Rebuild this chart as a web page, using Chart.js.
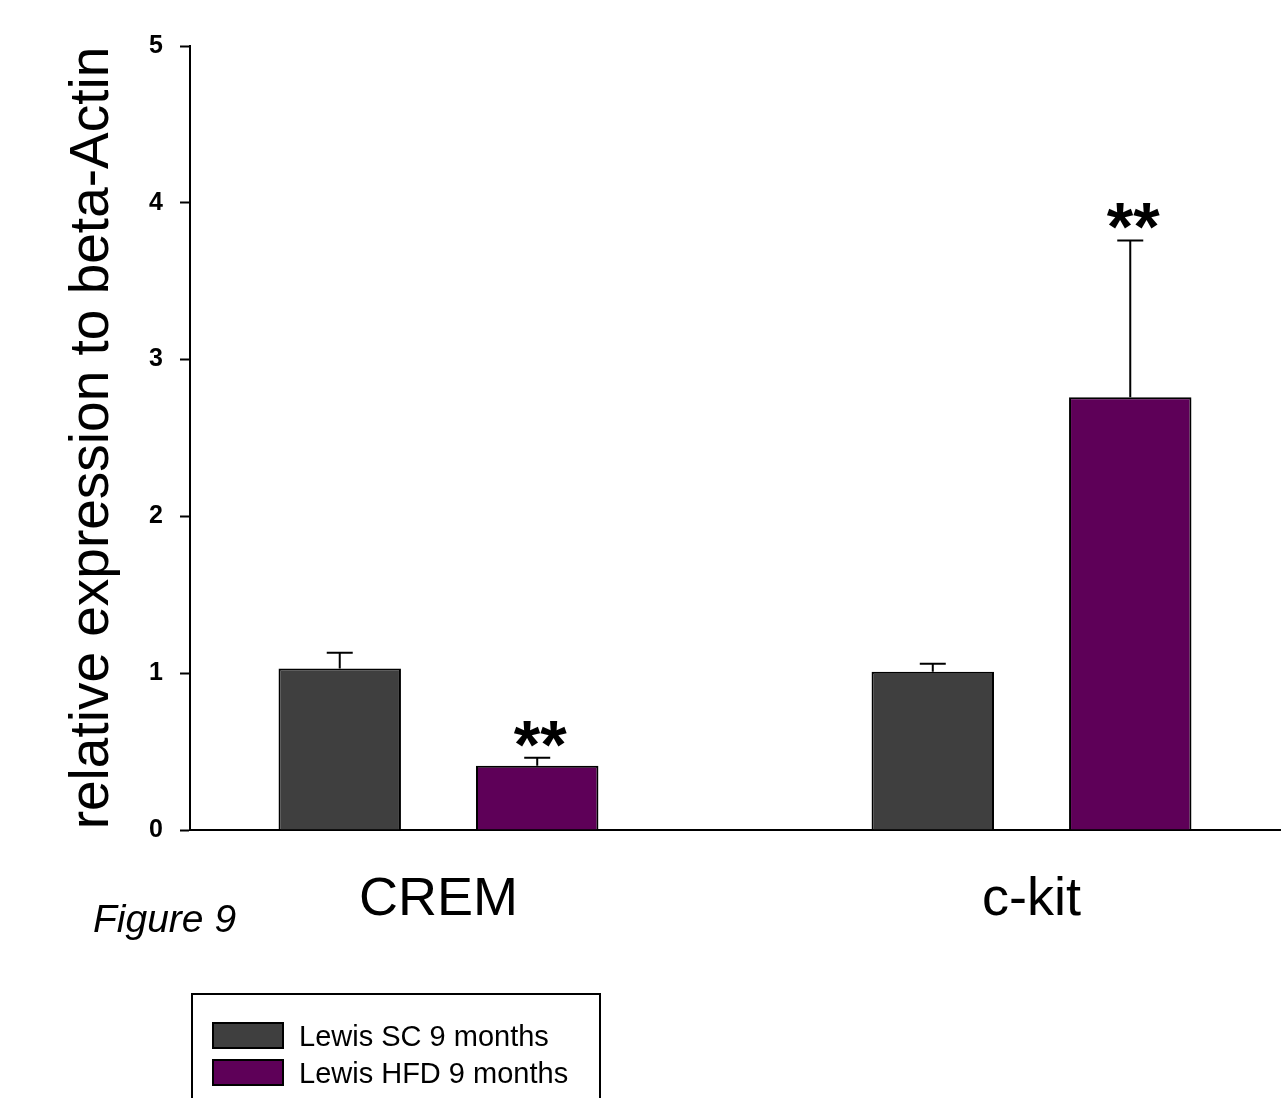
<!DOCTYPE html>
<html>
<head>
<meta charset="utf-8">
<script src="https://cdn.jsdelivr.net/npm/chart.js@4"></script>
<style>
  html, body { margin: 0; padding: 0; background: #fff; }
  #wrap { width: 1287px; height: 1098px; position: relative; }
</style>
</head>
<body>
<div id="wrap"><canvas id="chart" width="1287" height="1098"></canvas></div>
<script>
// data
const categories = ['CREM', 'c-kit'];
const seriesNames = ['Lewis SC 9 months', 'Lewis HFD 9 months'];
const scValues = [1.03, 1.01];
const scErrors = [0.10, 0.05];
const hfdValues = [0.41, 2.76];
const hfdErrors = [0.05, 1.00];
const hfdSignificance = ['**', '**'];
const yTicks = [0, 1, 2, 3, 4, 5];

const FONT = '"Liberation Sans", Arial, sans-serif';
const colors = ['#3f3f3f', '#5e0058'];

// error bars, significance stars, figure caption and boxed legend
const extras = {
  id: 'extras',
  afterDatasetsDraw(chart) {
    const ctx = chart.ctx;
    const y = chart.scales.y;
    ctx.save();
    ctx.strokeStyle = '#000';
    ctx.lineWidth = 2;
    chart.data.datasets.forEach((ds, di) => {
      const meta = chart.getDatasetMeta(di);
      meta.data.forEach((bar, i) => {
        const top = y.getPixelForValue(ds.data[i].y + ds.errors[i]);
        ctx.beginPath();
        ctx.moveTo(bar.x, bar.y);
        ctx.lineTo(bar.x, top);
        ctx.moveTo(bar.x - 13, top);
        ctx.lineTo(bar.x + 13, top);
        ctx.stroke();
        if (ds.stars && ds.stars[i]) {
          ctx.fillStyle = '#000';
          ctx.font = 'bold 68px ' + FONT;
          ctx.textAlign = 'center';
          ctx.textBaseline = 'alphabetic';
          ctx.fillText(ds.stars[i], bar.x + 3, top + 10);
        }
      });
    });
    ctx.restore();
  },
  afterDraw(chart) {
    const ctx = chart.ctx;
    ctx.save();
    ctx.fillStyle = '#000';
    ctx.font = 'italic 39px ' + FONT;
    ctx.textAlign = 'left';
    ctx.textBaseline = 'alphabetic';
    ctx.fillText('Figure 9', 93, 932);

    // legend box (runs off the bottom edge like the original)
    ctx.strokeStyle = '#000';
    ctx.lineWidth = 2;
    ctx.strokeRect(192, 994, 408, 140);
    ctx.font = '29px ' + FONT;
    chart.data.datasets.forEach((ds, di) => {
      const top = 1023 + di * 37;
      ctx.fillStyle = ds.backgroundColor;
      ctx.fillRect(213, top, 70, 25);
      ctx.strokeRect(213, top, 70, 25);
      ctx.fillStyle = '#000';
      ctx.fillText(ds.label, 299, top + 23);
    });
    ctx.restore();
  }
};

new Chart(document.getElementById('chart'), {
  type: 'bar',
  data: {
    datasets: [
      {
        label: seriesNames[0],
        data: categories.map((c, i) => ({ x: i, y: scValues[i] })),
        errors: scErrors,
        backgroundColor: colors[0],
        borderColor: '#000',
        borderWidth: 2
      },
      {
        label: seriesNames[1],
        data: categories.map((c, i) => ({ x: i, y: hfdValues[i] })),
        errors: hfdErrors,
        stars: hfdSignificance,
        backgroundColor: colors[1],
        borderColor: '#000',
        borderWidth: 2
      }
    ]
  },
  options: {
    responsive: false,
    animation: false,
    devicePixelRatio: 1,
    categoryPercentage: 0.666,
    barPercentage: 0.62,
    layout: { padding: { top: 46, right: 7, left: 0, bottom: 0 } },
    plugins: {
      legend: { display: false },
      tooltip: { enabled: false }
    },
    scales: {
      x: {
        type: 'linear',
        offset: false,
        min: -0.419,
        max: 1.419,
        afterBuildTicks: (scale) => {
          scale.ticks = categories.map((c, i) => ({ value: i }));
        },
        afterFit: (scale) => { scale.height = 268; },
        grid: { display: false, drawTicks: false, offset: false },
        border: { display: true, color: '#000', width: 2 },
        ticks: {
          padding: 38,
          color: '#000',
          font: { family: FONT, size: 54 },
          callback: (v) => categories[v]
        }
      },
      y: {
        min: 0,
        max: 5,
        afterBuildTicks: (scale) => {
          scale.ticks = yTicks.map(v => ({ value: v }));
        },
        afterFit: (scale) => { scale.width = 190; },
        grid: {
          display: true,
          drawOnChartArea: false,
          drawTicks: true,
          tickLength: 10,
          tickWidth: 2,
          tickColor: '#000'
        },
        border: { display: true, color: '#000', width: 2 },
        ticks: {
          padding: 17,
          color: '#000',
          font: { family: FONT, size: 25, weight: 'bold' }
        },
        title: {
          display: true,
          text: 'relative expression to beta-Actin',
          color: '#000',
          font: { family: FONT, size: 55 },
          padding: { top: 60, bottom: 0 }
        }
      }
    }
  },
  plugins: [extras]
});
</script>
</body>
</html>
